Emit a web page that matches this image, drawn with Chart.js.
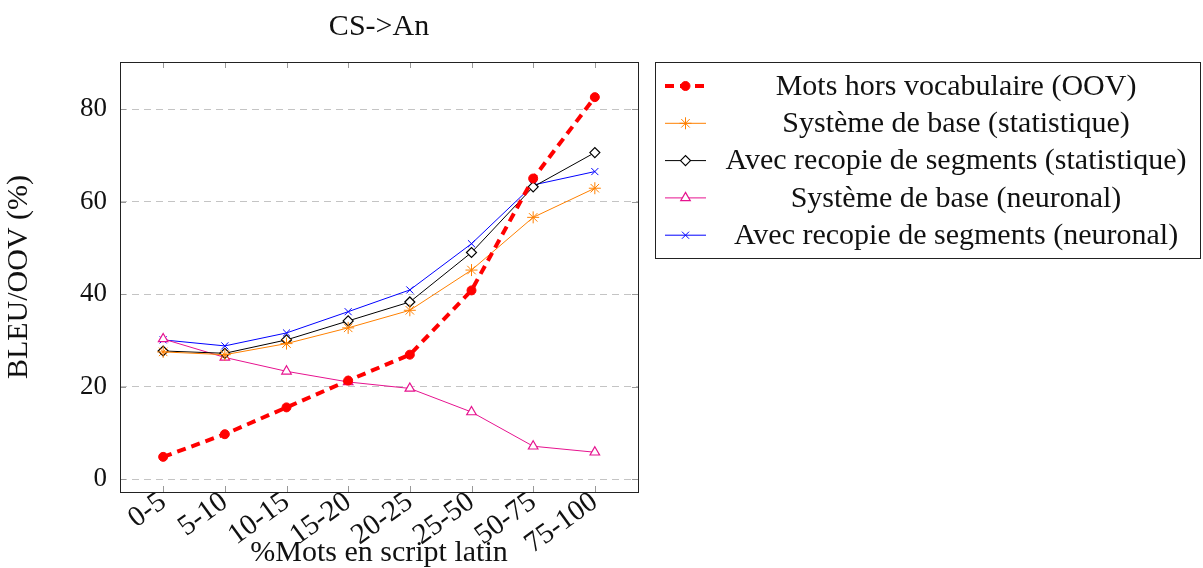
<!DOCTYPE html>
<html>
<head>
<meta charset="utf-8">
<script src="https://cdn.jsdelivr.net/npm/chart.js@4/dist/chart.umd.min.js"></script>
<style>
  html, body { margin: 0; padding: 0; background: #fff; }
  #wrap { width: 1203px; height: 568px; }
</style>
</head>
<body>
<div id="wrap"><canvas id="chart" width="1203" height="568"></canvas></div>
<script>
const categories = ['0-5', '5-10', '10-15', '15-20', '20-25', '25-50', '50-75', '75-100'];
const yTicks = [0, 20, 40, 60, 80];

const oov = [4.8, 9.7, 15.5, 21.3, 26.9, 40.8, 65.0, 82.6];
const baseStat = [27.5, 26.9, 29.3, 32.7, 36.5, 45.2, 56.6, 62.9];
const copyStat = [27.7, 27.2, 30.1, 34.2, 38.3, 49.0, 63.2, 70.6];
const baseNeur = [30.3, 26.3, 23.3, 21.0, 19.6, 14.5, 7.1, 5.8];
const copyNeur = [30.1, 28.8, 31.6, 36.2, 40.9, 50.9, 63.6, 66.5];

const serif = "'Liberation Serif', 'DejaVu Serif', serif";

function toPoints(values) {
  return values.map((v, i) => ({ x: i, y: v }));
}

// cadre, petites graduations et légende façon pgfplots
const framePlugin = {
  id: 'frame',
  afterDraw(chart) {
    const ctx = chart.ctx;
    const a = chart.chartArea;
    const xs = chart.scales.x;
    const ys = chart.scales.y;
    ctx.save();
    ctx.strokeStyle = '#999';
    ctx.lineWidth = 1;
    ctx.beginPath();
    yTicks.forEach(t => {
      const y = Math.round(ys.getPixelForValue(t)) + 0.5;
      ctx.moveTo(a.left, y); ctx.lineTo(a.left + 6, y);
      ctx.moveTo(a.right, y); ctx.lineTo(a.right - 6, y);
    });
    categories.forEach((c, i) => {
      const x = Math.round(xs.getPixelForValue(i)) + 0.5;
      ctx.moveTo(x, a.bottom); ctx.lineTo(x, a.bottom - 6);
      ctx.moveTo(x, a.top); ctx.lineTo(x, a.top + 6);
    });
    ctx.stroke();
    ctx.strokeStyle = '#222';
    ctx.strokeRect(Math.round(a.left) + 0.5, Math.round(a.top) + 0.5,
      Math.round(a.right - a.left), Math.round(a.bottom - a.top));

    // légende
    const lx = 655, ly = 62, lw = 545, lh = 196;
    ctx.strokeRect(lx + 0.5, ly + 0.5, lw, lh);
    ctx.font = '30px ' + serif;
    ctx.fillStyle = '#111';
    ctx.textAlign = 'center';
    ctx.textBaseline = 'middle';
    chart.data.datasets.forEach((ds, i) => {
      const y = 86 + i * 37.3;
      ctx.save();
      ctx.strokeStyle = ds.borderColor;
      ctx.lineWidth = ds.borderWidth;
      ctx.setLineDash(ds.borderDash || []);
      ctx.beginPath();
      ctx.moveTo(665, y);
      ctx.lineTo(706, y);
      ctx.stroke();
      ctx.restore();
      ctx.save();
      ctx.fillStyle = ds.pointBackgroundColor;
      ctx.strokeStyle = ds.borderColor;
      ctx.lineWidth = ds.pointBorderWidth || 1;
      Chart.helpers.drawPoint(ctx, {
        pointStyle: ds.pointStyle,
        radius: ds.pointRadius,
        borderWidth: ds.pointBorderWidth || 1
      }, 685.5, y);
      ctx.restore();
      ctx.fillText(ds.label, 956, y + 1);
    });
    ctx.restore();
  }
};

const ctx = document.getElementById('chart').getContext('2d');
new Chart(ctx, {
  type: 'line',
  data: {
    datasets: [
      {
        label: 'Mots hors vocabulaire (OOV)',
        data: toPoints(oov),
        borderColor: '#ff0000',
        backgroundColor: '#ff0000',
        pointBackgroundColor: '#ff0000',
        borderWidth: 4,
        borderDash: [9, 6],
        pointStyle: 'circle',
        pointRadius: 4.5,
        pointBorderWidth: 1
      },
      {
        label: 'Système de base (statistique)',
        data: toPoints(baseStat),
        borderColor: '#ff8000',
        backgroundColor: '#ff8000',
        pointBackgroundColor: '#ff8000',
        borderWidth: 1,
        pointStyle: 'star',
        pointRadius: 6,
        pointBorderWidth: 1
      },
      {
        label: 'Avec recopie de segments (statistique)',
        data: toPoints(copyStat),
        borderColor: '#000000',
        backgroundColor: '#ffffff',
        pointBackgroundColor: '#ffffff',
        borderWidth: 1,
        pointStyle: 'rectRot',
        pointRadius: 5,
        pointBorderWidth: 1.2
      },
      {
        label: 'Système de base (neuronal)',
        data: toPoints(baseNeur),
        borderColor: '#e6138f',
        backgroundColor: '#ffffff',
        pointBackgroundColor: '#ffffff',
        borderWidth: 1,
        pointStyle: 'triangle',
        pointRadius: 5.5,
        pointBorderWidth: 1.2
      },
      {
        label: 'Avec recopie de segments (neuronal)',
        data: toPoints(copyNeur),
        borderColor: '#0000ff',
        backgroundColor: '#0000ff',
        pointBackgroundColor: '#0000ff',
        borderWidth: 1,
        pointStyle: 'crossRot',
        pointRadius: 5,
        pointBorderWidth: 1
      }
    ]
  },
  options: {
    responsive: false,
    animation: false,
    layout: {
      padding: { left: 0, right: 565, top: 0, bottom: 0 }
    },
    plugins: {
      legend: { display: false },
      tooltip: { enabled: false },
      title: {
        display: true,
        text: 'CS->An',
        fullSize: false,
        color: '#111',
        font: { size: 30, family: serif, weight: 'normal', lineHeight: 1.2 },
        padding: { top: 9, bottom: 17 }
      }
    },
    scales: {
      x: {
        type: 'linear',
        min: -0.7,
        max: 7.7,
        afterBuildTicks: s => { s.ticks = categories.map((c, i) => ({ value: i })); },
        afterFit: s => { s.height = 76; },
        grid: { display: false, drawTicks: false },
        border: { display: false },
        ticks: {
          autoSkip: false,
          minRotation: 36,
          maxRotation: 36,
          padding: -7,
          color: '#111',
          font: { size: 29, family: serif },
          callback: v => categories[v]
        },
        title: {
          display: true,
          text: '%Mots en script latin',
          color: '#111',
          font: { size: 30, family: serif, lineHeight: 1.0 },
          padding: 0
        }
      },
      y: {
        min: -2.8,
        max: 90.2,
        afterBuildTicks: s => { s.ticks = yTicks.map(v => ({ value: v })); },
        afterFit: s => { s.width = 120; },
        grid: { color: '#c4c4c4', lineWidth: 1, drawTicks: false },
        border: { display: false, dash: [7, 5] },
        ticks: {
          padding: 13,
          color: '#111',
          font: { size: 27, family: serif }
        },
        title: {
          display: true,
          text: 'BLEU/OOV (%)',
          color: '#111',
          font: { size: 30, family: serif, lineHeight: 1.0 },
          padding: 4
        }
      }
    }
  },
  plugins: [framePlugin]
});
</script>
</body>
</html>
